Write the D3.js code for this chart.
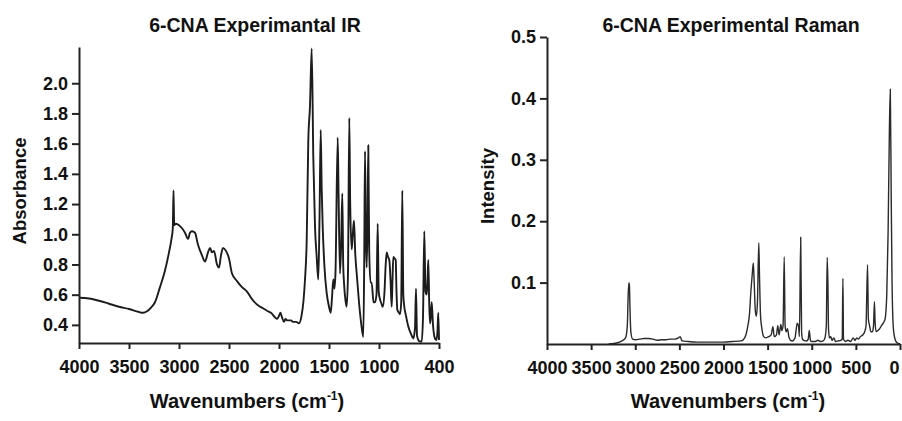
<!DOCTYPE html>
<html>
<head>
<meta charset="utf-8">
<script src="https://cdn.jsdelivr.net/npm/d3@7"></script>
<style>
  body { margin: 0; background: #fff; }
  svg { display: block; font-family: "Liberation Sans", Arial, sans-serif; font-weight: bold; }
  .tick text { font-size: 18px; fill: #111; }
  .domain, .tick line { stroke: #222; stroke-width: 2; }
</style>
</head>
<body>
<svg id="chart" width="902" height="421"></svg>
<script>
// --- datos IR (cm-1 / absorbancia) ---
const irWave = [
  4000, 3900, 3800, 3700, 3600, 3500, 3400, 3360, 3320, 3280,
  3240, 3190, 3140, 3100, 3075, 3062, 3055, 3048, 3030, 3000,
  2970, 2940, 2910, 2890, 2870, 2840, 2810, 2770, 2740, 2710,
  2690, 2670, 2650, 2620, 2600, 2580, 2560, 2530, 2500, 2470,
  2420, 2370, 2320, 2270, 2210, 2160, 2110, 2080, 2040, 2020,
  2000, 1985, 1970, 1950, 1935, 1920, 1900, 1880, 1860, 1830,
  1800, 1775, 1755, 1740, 1723, 1707, 1690, 1673, 1657, 1640,
  1623, 1607, 1595, 1583, 1573, 1563, 1545, 1523, 1500, 1483,
  1470, 1457, 1445, 1435, 1413, 1405, 1390, 1378, 1367, 1358,
  1350, 1335, 1323, 1310, 1297, 1288, 1273, 1262, 1250, 1238,
  1223, 1200, 1180, 1157, 1148, 1140, 1130, 1123, 1115, 1107,
  1098, 1085, 1073, 1055, 1040, 1025, 1013, 1003, 990, 975,
  963, 945, 933, 923, 910, 897, 885, 873, 865, 857,
  845, 833, 825, 817, 800, 790, 778, 767, 757, 747,
  730, 707, 680, 657, 640, 630, 620, 607, 590, 573,
  560, 547, 535, 523, 515, 507, 498, 490, 482, 473,
  460, 440, 425, 415, 407, 400
];
const irAbs = [
  0.58, 0.575, 0.56, 0.54, 0.52, 0.505, 0.485, 0.48, 0.49, 0.515,
  0.55, 0.65, 0.76, 0.88, 0.97, 1.04, 1.29, 1.06, 1.07, 1.06,
  1.04, 1.01, 0.97, 1.01, 1.02, 1.01, 0.93, 0.86, 0.82, 0.88,
  0.91, 0.88, 0.89, 0.80, 0.78, 0.86, 0.91, 0.89, 0.84, 0.74,
  0.69, 0.65, 0.62, 0.57, 0.53, 0.51, 0.49, 0.48, 0.45, 0.44,
  0.46, 0.48, 0.45, 0.42, 0.44, 0.43, 0.43, 0.43, 0.42, 0.42,
  0.41, 0.46, 0.56, 0.70, 0.96, 1.62, 1.85, 2.23, 1.51, 1.05,
  0.85, 0.70, 1.10, 1.69, 1.30, 1.05, 0.78, 0.61, 0.52, 0.48,
  0.58, 0.70, 0.64, 0.75, 1.64, 1.30, 0.74, 0.95, 1.27, 0.80,
  0.68, 0.56, 0.52, 0.75, 1.77, 1.20, 0.90, 1.00, 1.09, 0.88,
  0.74, 0.55, 0.42, 0.32, 0.80, 1.55, 0.95, 0.78, 1.05, 1.59,
  0.90, 0.68, 0.68, 0.55, 0.55, 0.60, 1.07, 0.62, 0.57, 0.54,
  0.52, 0.62, 0.80, 0.88, 0.85, 0.83, 0.70, 0.52, 0.70, 0.85,
  0.84, 0.83, 0.62, 0.50, 0.48, 0.47, 0.55, 1.29, 0.60, 0.52,
  0.46, 0.39, 0.34, 0.31, 0.38, 0.64, 0.33, 0.30, 0.29, 0.29,
  0.45, 1.02, 0.62, 0.60, 0.70, 0.83, 0.55, 0.41, 0.45, 0.55,
  0.40, 0.31, 0.30, 0.36, 0.48, 0.30
];

// --- datos Raman (cm-1 / intensidad) ---
const ramanWave = [
  3300, 3200, 3150, 3110, 3090, 3080, 3072, 3066, 3060, 3050,
  3030, 3000, 2950, 2900, 2850, 2800, 2750, 2700, 2650, 2600,
  2550, 2510, 2490, 2470, 2400, 2300, 2200, 2100, 2000, 1900,
  1800, 1760, 1730, 1705, 1690, 1675, 1662, 1652, 1640, 1628,
  1615, 1600, 1592, 1580, 1565, 1545, 1520, 1490, 1460, 1440,
  1425, 1400, 1385, 1370, 1350, 1340, 1325, 1312, 1302, 1290,
  1275, 1260, 1240, 1220, 1190, 1175, 1165, 1150, 1140, 1125,
  1115, 1105, 1090, 1060, 1040, 1028, 1015, 1000, 960, 930,
  900, 870, 850, 835, 825, 817, 810, 800, 785, 770,
  750, 730, 700, 670, 655, 647, 640, 620, 590, 560,
  530, 510, 490, 470, 450, 420, 400, 385, 368, 358,
  345, 330, 312, 300, 290, 282, 270, 250, 230, 210,
  190, 170, 150, 135, 120, 110, 100, 90, 75, 60,
  40, 0
];
const ramanInt = [
  0.000, 0.002, 0.005, 0.010, 0.030, 0.080, 0.100, 0.095, 0.060, 0.020,
  0.008, 0.007, 0.008, 0.009, 0.009, 0.008, 0.006, 0.007, 0.007, 0.008,
  0.008, 0.010, 0.012, 0.005, 0.004, 0.003, 0.003, 0.003, 0.003, 0.004,
  0.005, 0.010, 0.025, 0.050, 0.085, 0.112, 0.132, 0.100, 0.055, 0.045,
  0.070, 0.165, 0.110, 0.045, 0.025, 0.012, 0.010, 0.012, 0.015, 0.028,
  0.012, 0.015, 0.030, 0.015, 0.032, 0.022, 0.030, 0.142, 0.030, 0.020,
  0.025, 0.012, 0.006, 0.005, 0.010, 0.025, 0.034, 0.030, 0.012, 0.174,
  0.020, 0.008, 0.006, 0.005, 0.008, 0.022, 0.006, 0.004, 0.004, 0.006,
  0.004, 0.005, 0.010, 0.030, 0.141, 0.100, 0.025, 0.010, 0.012, 0.006,
  0.010, 0.004, 0.005, 0.006, 0.008, 0.107, 0.008, 0.004, 0.006, 0.004,
  0.010, 0.006, 0.010, 0.008, 0.012, 0.015, 0.020, 0.030, 0.129, 0.040,
  0.030, 0.020, 0.020, 0.030, 0.069, 0.035, 0.020, 0.022, 0.025, 0.030,
  0.034, 0.040, 0.080, 0.180, 0.350, 0.415, 0.250, 0.100, 0.025, 0.010,
  0.003, 0.000
];

// --- ticks ---
const irXTicks = [4000, 3500, 3000, 2500, 2000, 1500, 1000, 400];
const irYTicks = [0.4, 0.6, 0.8, 1.0, 1.2, 1.4, 1.6, 1.8, 2.0];
const ramanXTicks = [4000, 3500, 3000, 2500, 2000, 1500, 1000, 500, 0];
const ramanYTicks = [0.1, 0.2, 0.3, 0.4, 0.5];

const svg = d3.select("#chart");

function drawPanel(opts) {
    const g = svg.append("g");
    const x = d3.scaleLinear().domain(opts.xDomain).range(opts.xRange);
    const y = d3.scaleLinear().domain(opts.yDomain).range(opts.yRange);

    const pts = opts.wave.map((w, i) => [w, opts.vals[i]]);
    const line = d3.line()
        .x(d => x(d[0]))
        .y(d => y(d[1]))
        .curve(d3.curveMonotoneX);

    g.append("path")
        .datum(pts)
        .attr("fill", "none")
        .attr("stroke", opts.color)
        .attr("stroke-width", opts.lineWidth)
        .attr("stroke-linejoin", "round")
        .attr("d", line);

    const xAxis = g.append("g")
        .attr("transform", `translate(0,${opts.yRange[0]})`)
        .call(d3.axisBottom(x).tickValues(opts.xTicks).tickFormat(d3.format("d"))
            .tickSize(6).tickSizeOuter(0).tickPadding(11));

    // la ultima etiqueta toca el borde: correrla un poco
    if (opts.lastLabelShift) {
        xAxis.selectAll(".tick text")
            .filter(d => d === opts.xTicks[opts.xTicks.length - 1])
            .attr("dx", opts.lastLabelShift);
    }

    g.append("g")
        .attr("transform", `translate(${opts.xRange[0]},0)`)
        .call(d3.axisLeft(y).tickValues(opts.yTicks).tickFormat(d3.format(".1f"))
            .tickSize(7).tickSizeOuter(0).tickPadding(4));

    // titulo
    g.append("text")
        .attr("x", opts.titleX).attr("y", 32)
        .attr("text-anchor", "middle")
        .style("font-size", "19.5px").attr("fill", "#111")
        .text(opts.title);

    // etiqueta eje x
    const xl = g.append("text")
        .attr("x", opts.xLabelX).attr("y", 408)
        .attr("text-anchor", "middle")
        .style("font-size", "20px").attr("fill", "#111");
    xl.append("tspan").text("Wavenumbers (cm");
    xl.append("tspan").attr("dy", -8).style("font-size", "12px").text("-1");
    xl.append("tspan").attr("dy", 8).text(")");

    // etiqueta eje y
    g.append("text")
        .attr("transform", `translate(${opts.yLabelX},${opts.yLabelY}) rotate(-90)`)
        .attr("text-anchor", "middle")
        .style("font-size", "18.5px").attr("fill", "#111")
        .text(opts.yLabel);
}

drawPanel({
    wave: irWave, vals: irAbs,
    xDomain: [4000, 400], xRange: [79, 439],
    yDomain: [0.28, 2.24], yRange: [343, 47],
    xTicks: irXTicks, yTicks: irYTicks,
    color: "#1c1c1c", lineWidth: 1.9,
    title: "6-CNA Experimantal IR", titleX: 255,
    xLabelX: 247, yLabel: "Absorbance", yLabelX: 26, yLabelY: 191
});

drawPanel({
    wave: ramanWave, vals: ramanInt,
    xDomain: [4000, 0], xRange: [547, 900],
    yDomain: [0, 0.5], yRange: [344, 37],
    xTicks: ramanXTicks, yTicks: ramanYTicks,
    color: "#2a2a2a", lineWidth: 1.4,
    title: "6-CNA Experimental Raman", titleX: 731,
    xLabelX: 728, yLabel: "Intensity", yLabelX: 494, yLabelY: 186,
    lastLabelShift: -6
});
</script>
</body>
</html>
